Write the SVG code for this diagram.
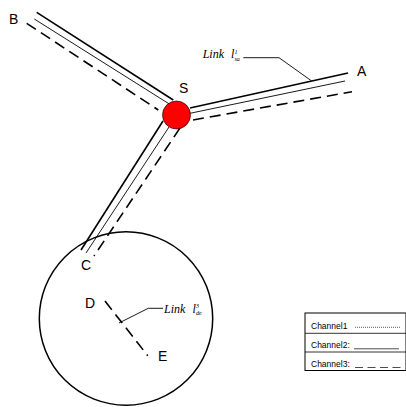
<svg xmlns="http://www.w3.org/2000/svg" width="406" height="407" viewBox="0 0 406 407">
  <style>
    .thick { stroke: #000; stroke-width: 1.6; fill: none; }
    .thin { stroke: #000; stroke-width: 0.9; fill: none; }
    .dash { stroke: #000; stroke-width: 1.6; fill: none; stroke-dasharray: 11 6; }
    .lead { stroke: #000; stroke-width: 0.9; fill: none; }
    .lbl { font-family: "Liberation Sans", Arial, sans-serif; font-size: 14px; fill: #000; }
    .link { font-family: "Liberation Serif", "Times New Roman", serif; font-style: italic; font-size: 12px; fill: #000; }
    .small { font-family: "Liberation Serif", "Times New Roman", serif; font-style: italic; font-size: 6px; fill: #000; }
    .leg { font-family: "Liberation Sans", Arial, sans-serif; font-size: 8.5px; fill: #000; }
  </style>
  <rect width="406" height="407" fill="#fff"/>

  <g id="cluster">
    <circle cx="126" cy="318.5" r="86.7" fill="none" stroke="#000" stroke-width="1.5"/>
  </g>

  <g id="connectors">
    <!-- S-B -->
    <line class="thick" x1="36.7" y1="12.3" x2="173.3" y2="100"/>
    <line class="thin" x1="34.3" y1="19" x2="169.3" y2="104"/>
    <line class="dash" x1="26.7" y1="23.3" x2="158.3" y2="110"/>
    <!-- S-A -->
    <line class="thick" x1="190" y1="108" x2="348" y2="73"/>
    <line class="thin" x1="190" y1="113.3" x2="345" y2="81"/>
    <line class="dash" x1="193" y1="120" x2="352" y2="91.7"/>
    <!-- S-C -->
    <line class="thick" x1="163" y1="121" x2="81" y2="250"/>
    <line class="thin" x1="169" y1="127" x2="86" y2="253"/>
    <line class="dash" x1="180" y1="128" x2="94" y2="256"/>
    <!-- D-E -->
    <line class="dash" x1="105" y1="301" x2="147.7" y2="355.7" stroke-dasharray="10 5"/>
    <!-- leaders -->
    <polyline class="lead" points="243.3,57.7 279,57.7 311.7,81"/>
    <polyline class="lead" points="119,323 148.3,308.3 163,308.3"/>
  </g>

  <g id="node-S">
    <circle cx="176.5" cy="115" r="14" fill="#ff0000" stroke="#000" stroke-width="0.6"/>
    <text class="lbl" x="179" y="93">S</text>
  </g>
  <g id="node-A"><text class="lbl" x="357" y="76">A</text></g>
  <g id="node-B"><text class="lbl" x="9" y="24">B</text></g>
  <g id="node-C"><text class="lbl" x="81" y="269.5">C</text></g>
  <g id="node-D"><text class="lbl" x="85" y="308">D</text></g>
  <g id="node-E"><text class="lbl" x="158" y="361">E</text></g>

  <g id="label-sa">
    <text class="link" x="202.7" y="58.3">Link</text>
    <text class="link" x="231" y="58.3">l</text>
    <text class="small" x="234.5" y="60.5">sa</text>
    <text class="small" x="234.5" y="53.5">1</text>
  </g>
  <g id="label-de">
    <text class="link" x="164" y="312.7">Link</text>
    <text class="link" x="192.5" y="312.7">l</text>
    <text class="small" x="196" y="315">de</text>
    <text class="small" x="196" y="308">3</text>
  </g>

  <g id="legend">
    <rect x="305" y="313" width="101" height="57.5" fill="#fff" stroke="#000" stroke-width="1"/>
    <line x1="305" y1="333.3" x2="406" y2="333.3" stroke="#000" stroke-width="0.8"/>
    <line x1="305" y1="352" x2="406" y2="352" stroke="#000" stroke-width="0.8"/>
    <text class="leg" x="311" y="329">Channel1</text>
    <line x1="355" y1="327.3" x2="401" y2="327.3" stroke="#000" stroke-width="0.8" stroke-dasharray="0.8 1.2"/>
    <text class="leg" x="311" y="348">Channel2:</text>
    <line x1="354" y1="348.8" x2="399" y2="348.8" stroke="#000" stroke-width="0.7"/>
    <text class="leg" x="311" y="367">Channel3:</text>
    <line x1="355" y1="367.5" x2="401" y2="367.5" stroke="#000" stroke-width="0.7" stroke-dasharray="8 4.5"/>
  </g>
</svg>
